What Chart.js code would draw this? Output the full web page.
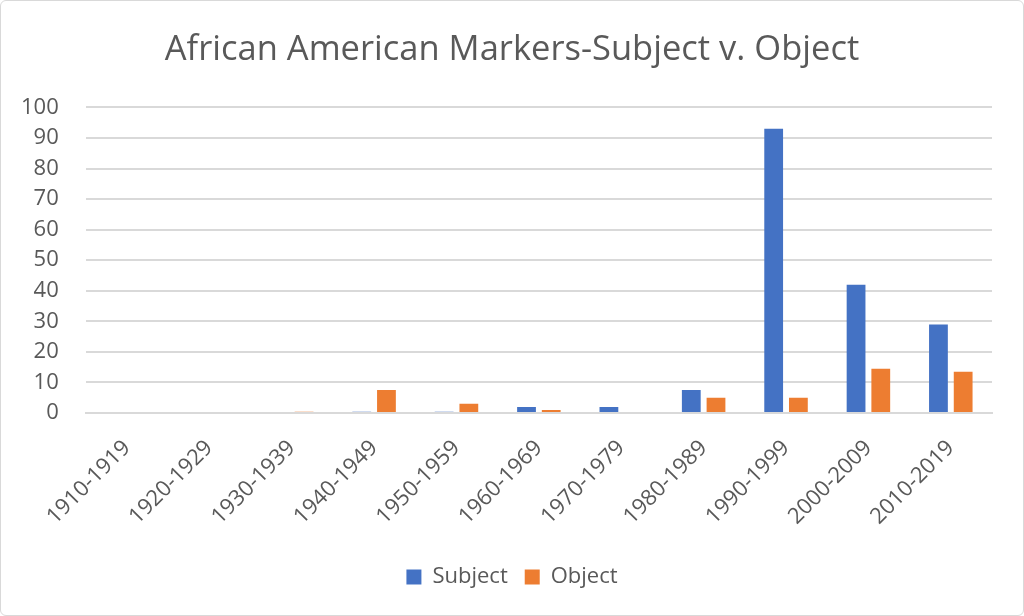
<!DOCTYPE html>
<html>
<head>
<meta charset="utf-8">
<script src="https://cdn.jsdelivr.net/npm/chart.js@4"></script>
<style>
  html, body { margin: 0; padding: 0; background: #fff; }
  #wrap {
    position: absolute; left: 0; top: 0;
    width: 1022px; height: 614px;
    border: 1px solid #d9d9d9; border-radius: 6px;
  }
</style>
</head>
<body>
<div id="wrap"><canvas id="myChart" width="1022" height="614"></canvas></div>
<script>
// data
var decades = ["1910-1919", "1920-1929", "1930-1939", "1940-1949", "1950-1959",
  "1960-1969", "1970-1979", "1980-1989", "1990-1999", "2000-2009", "2010-2019"];
var subject = [0, 0, 0, 0.4, 0.4, 2, 2, 7.5, 93, 42, 29];
var object = [0, 0, 0.4, 7.5, 3, 1, 0, 5, 5, 14.5, 13.5];

var grey = "#595959";
var font = "'Open Sans', 'Liberation Sans', sans-serif";

// title and legend are centred on the whole canvas, not on the padded area
const centerBlocks = {
  id: 'centerBlocks',
  afterLayout(chart) {
    [chart.titleBlock, chart.legend].forEach(function(b) {
      b.left = 0;
      b.right = chart.width;
      b.width = chart.width;
    });
  }
};

const ctx = document.getElementById('myChart').getContext('2d');
const myChart = new Chart(ctx, {
  type: 'bar',
  data: {
    labels: decades,
    datasets: [
      { label: 'Subject', data: subject, backgroundColor: '#4472c4' },
      { label: 'Object', data: object, backgroundColor: '#ed7d31' }
    ]
  },
  plugins: [centerBlocks],
  options: {
    responsive: false,
    animation: false,
    layout: { padding: { left: -7, right: 31, top: 28, bottom: 17 } },
    datasets: { bar: { categoryPercentage: 0.6, barPercentage: 0.76 } },
    plugins: {
      title: {
        display: true,
        text: 'African American Markers-Subject v. Object',
        color: grey,
        font: { family: font, size: 34.5, weight: 'normal' },
        padding: { top: 0, bottom: 37 }
      },
      legend: {
        position: 'bottom',
        labels: {
          color: grey,
          font: { family: font, size: 22 },
          boxWidth: 15, boxHeight: 15,
          padding: 17
        }
      },
      tooltip: { enabled: false }
    },
    scales: {
      x: {
        grid: { display: false },
        border: { color: '#d9d9d9', width: 2 },
        ticks: {
          color: grey,
          font: { family: font, size: 22 },
          maxRotation: 45, minRotation: 45,
          padding: 14
        },
        afterFit: function(scale) { scale.height = 136; }
      },
      y: {
        min: 0, max: 100,
        grid: { color: '#d9d9d9', lineWidth: 2, drawTicks: false },
        border: { display: false },
        ticks: {
          stepSize: 10,
          color: grey,
          font: { family: font, size: 22 },
          padding: 27
        }
      }
    }
  }
});
</script>
</body>
</html>
